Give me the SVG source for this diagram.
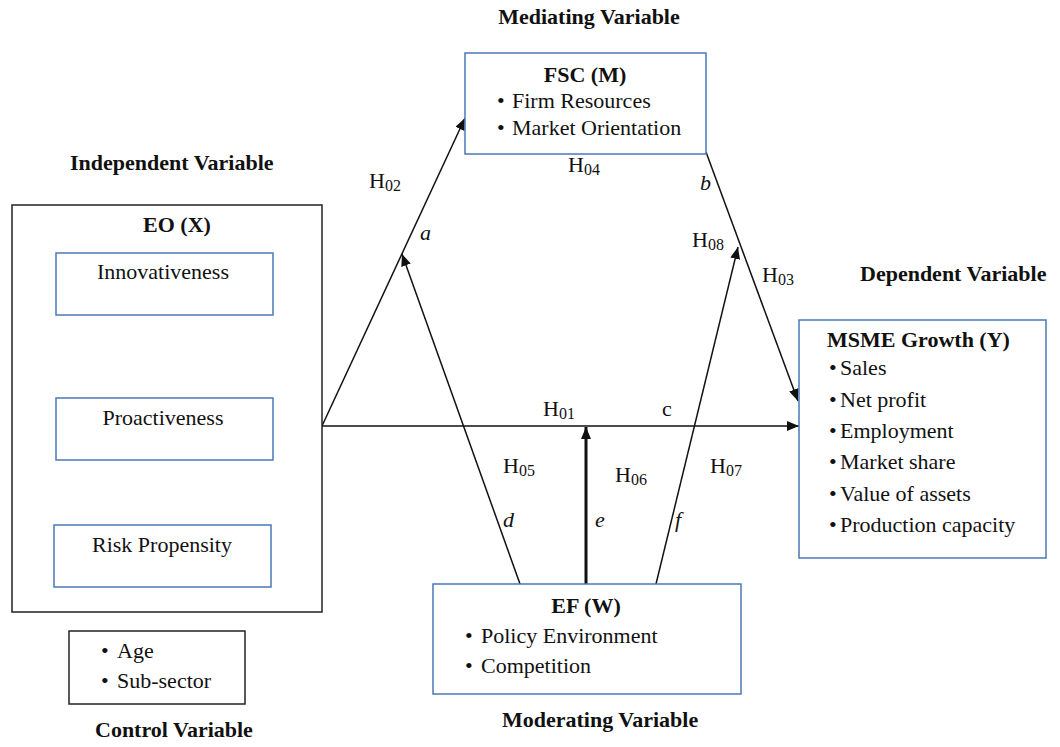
<svg xmlns="http://www.w3.org/2000/svg" width="1060" height="747" viewBox="0 0 1060 747">
<style>
text{font-family:"Liberation Serif","Times New Roman",serif;font-size:22px;fill:#111}
.b{font-weight:bold}
.i{font-style:italic}
.m{text-anchor:middle}
.sub{font-size:16px}
.blk{fill:#fff;stroke:#222;stroke-width:1.5}
.blu{fill:#fff;stroke:#4a7ab5;stroke-width:1.5}
.ln{fill:none;stroke:#111;stroke-width:1.5;marker-end:url(#ah)}
</style>
<defs>
<marker id="ah" markerUnits="userSpaceOnUse" markerWidth="12" markerHeight="10" refX="12" refY="5" orient="auto" viewBox="0 0 12 10">
<path d="M0,0 L12,5 L0,10 z" fill="#111"/>
</marker>
</defs>
<rect width="1060" height="747" fill="#fff"/>
<g id="labels">
<text class="b m" x="589" y="24">Mediating Variable</text>
<text class="b" x="70" y="170">Independent Variable</text>
<text class="b" x="860" y="281">Dependent Variable</text>
<text class="b" x="502" y="727">Moderating Variable</text>
<text class="b" x="95" y="737">Control Variable</text>
</g>
<g id="connectors">
<line class="ln" x1="322" y1="426" x2="465" y2="118"/>
<line class="ln" x1="322" y1="426" x2="799" y2="426"/>
<line class="ln" x1="706" y1="152" x2="798" y2="401"/>
<line class="ln" x1="520" y1="584" x2="402" y2="254"/>
<line class="ln" x1="586" y1="584" x2="586" y2="427" style="stroke-width:3"/>
<line class="ln" x1="656" y1="584" x2="738" y2="247"/>
<text x="369" y="188">H<tspan class="sub" dy="3">02</tspan></text>
<text x="568" y="172">H<tspan class="sub" dy="3">04</tspan></text>
<text class="i" x="700" y="190">b</text>
<text class="i" x="420" y="240">a</text>
<text x="692" y="247">H<tspan class="sub" dy="3">08</tspan></text>
<text x="762" y="282">H<tspan class="sub" dy="3">03</tspan></text>
<text x="543" y="416">H<tspan class="sub" dy="3">01</tspan></text>
<text x="662" y="416">c</text>
<text x="503" y="473">H<tspan class="sub" dy="3">05</tspan></text>
<text x="615" y="482">H<tspan class="sub" dy="3">06</tspan></text>
<text x="710" y="473">H<tspan class="sub" dy="3">07</tspan></text>
<text class="i" x="503" y="527">d</text>
<text class="i" x="595" y="527">e</text>
<text class="i" x="675" y="527">f</text>
</g>
<g id="fsc">
<rect class="blu" x="465" y="53" width="241" height="101"/>
<text class="b m" x="585" y="82">FSC (M)</text>
<text x="497" y="108">•</text><text x="512" y="108">Firm Resources</text>
<text x="497" y="135">•</text><text x="512" y="135">Market Orientation</text>
</g>
<g id="eo">
<rect class="blk" x="12" y="205" width="310" height="407"/>
<text class="b m" x="177" y="232">EO (X)</text>
</g>
<g id="innovativeness">
<rect class="blu" x="56" y="253" width="217" height="62"/>
<text class="m" x="163" y="279">Innovativeness</text>
</g>
<g id="proactiveness">
<rect class="blu" x="56" y="398" width="217" height="62"/>
<text class="m" x="163" y="425">Proactiveness</text>
</g>
<g id="risk">
<rect class="blu" x="54" y="525" width="217" height="62"/>
<text class="m" x="162" y="552">Risk Propensity</text>
</g>
<g id="msme">
<rect class="blu" x="799" y="320" width="247" height="238"/>
<text class="b" x="827" y="347">MSME Growth (Y)</text>
<text x="829" y="375">•</text><text x="840" y="375">Sales</text>
<text x="829" y="407">•</text><text x="840" y="407">Net profit</text>
<text x="829" y="438">•</text><text x="840" y="438">Employment</text>
<text x="829" y="469">•</text><text x="840" y="469">Market share</text>
<text x="829" y="501">•</text><text x="840" y="501">Value of assets</text>
<text x="829" y="532">•</text><text x="840" y="532">Production capacity</text>
</g>
<g id="ef">
<rect class="blu" x="433" y="584" width="308" height="110"/>
<text class="b m" x="586" y="613">EF (W)</text>
<text x="465" y="643">•</text><text x="481" y="643">Policy Environment</text>
<text x="465" y="673">•</text><text x="481" y="673">Competition</text>
</g>
<g id="control">
<rect class="blk" x="69" y="631" width="176" height="73"/>
<text x="101" y="658">•</text><text x="117" y="658">Age</text>
<text x="101" y="688">•</text><text x="117" y="688">Sub-sector</text>
</g>
</svg>
